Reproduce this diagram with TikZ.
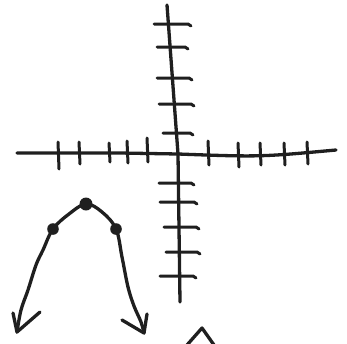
\documentclass[tikz,border=0pt]{standalone}
\usepackage{tikz}
\begin{document}
\begin{tikzpicture}[x=1pt, y=-1pt, line cap=round, line join=round,
    pen/.style={black!88, line width=3.3pt},
    tickmark/.style={black!88, line width=3pt},
    dotmark/.style={fill=black!88}]

	\useasboundingbox (0,0) rectangle (347,343);

	% axes
	\coordinate (ytop) at (167,5);
	\coordinate (origin) at (178,154);
	\coordinate (ybot) at (180,302);
	\coordinate (xleft) at (17,153);
	\coordinate (xright) at (336,150);

	\draw[pen] (ytop) .. controls (172,80) .. (origin) -- (ybot);
	\draw[pen] (xleft) -- (120,153) -- (origin) .. controls (260,157) .. (xright);

	% ticks on the vertical axis
	\foreach \y/\xa/\xb in {24/154/191, 47/157/188, 78/157/192, 104/159/194, 133/163/193,
	                       183/159/194, 202/160/197, 227/164/199, 252/166/200, 276/160/196}{
		\draw[tickmark] (\xa,\y) -- (\xb-3,\y) -- (\xb,\y+2);
	}

	% ticks on the horizontal axis
	\foreach \x/\ya/\yb in {58/142/169, 79/142/164, 109/143/162, 127/141/163, 147/138/162,
	                       208/141/165, 238/143/167, 260/143/165, 284/143/165, 307/142/164}{
		\draw[tickmark] (\x,\ya) -- (\x+1,\yb);
	}

	% parabola
	\coordinate (pleft) at (53,229);
	\coordinate (pvertex) at (86,204);
	\coordinate (pright) at (116,229);
	\coordinate (tipl) at (17,332);
	\coordinate (tipr) at (144,333);

	\draw[pen] plot[smooth, tension=0.6] coordinates {(tipl) (21,310) (28,290) (36,265) (43,250) (pleft) (69,214) (pvertex) (102,212) (pright) (122,257) (128,287) (134,306) (141,322) (tipr)};

	\draw[pen] (13,313) -- (tipl) -- (40,312);
	\draw[pen] (122,320) -- (tipr) -- (147,314);

	\fill[dotmark] (pvertex) circle (6.5);
	\fill[dotmark] (pleft) circle (5.8);
	\fill[dotmark] (pright) circle (5.8);

	% arrow tip cut off at the bottom
	\coordinate (tipb) at (202,328);
	\draw[pen] (187,345) -- (tipb) -- (214,345);

\end{tikzpicture}
\end{document}
